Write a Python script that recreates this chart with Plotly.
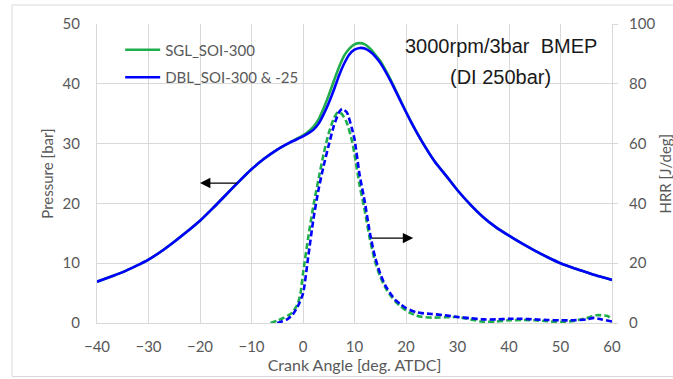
import plotly.graph_objects as go

# Pressure [bar] vs crank angle
p_angle = [-40, -37.5, -35, -32.5, -30, -27.5, -25, -22.5, -20, -17.5, -15, -12.5, -10, -7.5, -5, -2.5,
           0, 1, 2, 3, 4, 5, 6, 7, 8, 9, 10, 11, 12, 13, 14, 15, 17, 19, 21, 23, 25.5, 28, 30,
           32.5, 35, 37.5, 40, 42.5, 45, 47.5, 50, 52.5, 55, 57.5, 60]
p_dbl = [6.9, 7.7, 8.5, 9.5, 10.6, 12.0, 13.6, 15.3, 17.1, 19.2, 21.4, 23.6, 25.7, 27.5, 29.0, 30.2,
         31.2, 31.7, 32.3, 33.3, 34.9, 36.8, 39.0, 41.4, 43.4, 44.9, 45.7, 46.0, 45.9, 45.4, 44.6, 43.5,
         40.5, 37.0, 33.6, 30.5, 27.1, 24.4, 22.2, 19.8, 17.7, 16.0, 14.6, 13.3, 12.1, 11.0, 10.0,
         9.2, 8.5, 7.8, 7.2]
p_sgl = [6.9, 7.7, 8.5, 9.5, 10.6, 12.0, 13.6, 15.3, 17.1, 19.2, 21.4, 23.6, 25.7, 27.5, 29.0, 30.2,
         31.4, 32.0, 32.8, 34.0, 35.9, 38.1, 40.5, 42.8, 44.7, 45.9, 46.6, 46.8, 46.6, 45.9, 44.9, 43.8,
         40.7, 37.1, 33.6, 30.5, 27.1, 24.4, 22.2, 19.8, 17.7, 16.0, 14.6, 13.3, 12.1, 11.0, 10.0,
         9.2, 8.5, 7.8, 7.2]

# Heat release rate [J/deg]
h_angle_dbl = [-5, -4, -3, -2, -1, 0, 1, 2, 3, 4, 5, 6, 7, 7.6, 8.5, 9.5, 10, 11, 12, 13, 14, 15, 16,
               17, 18, 19, 20, 21, 22, 23, 25, 27.5, 30, 32.5, 35, 37.5, 40, 42.5, 45, 47.5, 50,
               52.5, 55, 56.5, 58, 60]
h_dbl = [0, 0.6, 1.3, 2.8, 5.6, 9.8, 22, 34.5, 44.5, 52.5, 59.5, 66, 70.5, 71.6, 70.5, 65, 61.5,
         49.5, 40.5, 30, 22, 16.5, 12.5, 9.8, 7.6, 6.2, 5.0, 4.2, 3.6, 3.3, 3.0, 2.6, 2.0, 1.6, 1.2,
         1.2, 1.4, 1.4, 1.2, 1.0, 0.9, 0.9, 1.2, 1.7, 1.2, 0.5]
h_angle_sgl = [-6.3, -5, -4, -3, -2, -1, -0.5, 0, 1, 2, 3, 4, 5, 6, 6.8, 7.5, 8.5, 9.5, 10, 11, 12,
               13, 14, 15, 16, 17, 18, 19, 20, 21, 22, 23, 25, 27.5, 30, 32.5, 35, 37.5, 40, 42.5,
               45, 47.5, 50, 52.5, 55, 57, 59, 60]
h_sgl = [0, 0.8, 1.5, 2.4, 3.6, 6.5, 9.8, 16.5, 28.5, 39, 48, 56.5, 63.5, 68.5, 70.6, 70, 67, 61,
         56.5, 46, 37.5, 28, 20.5, 15.5, 11.8, 9.2, 7.1, 5.5, 4.2, 3.2, 2.5, 2.1, 1.8, 1.9, 2.0, 1.2,
         0.4, 0.5, 0.9, 1.0, 0.9, 0.6, 0.3, 0.7, 1.6, 2.6, 2.4, 1.4]

x_ticks = [-40, -30, -20, -10, 0, 10, 20, 30, 40, 50, 60]
name_sgl = "SGL_SOI-300"
name_dbl = "DBL_SOI-300 & -25"

GREEN = "#1fae4b"
BLUE = "#0000ff"
GRID = "#d9d9d9"
TXT = "#595959"
FONT = "Lato"
SM = 0.6

fig = go.Figure()
fig.add_trace(go.Scatter(x=p_angle, y=p_sgl, name=name_sgl, mode="lines", legendgroup="sgl",
                         line=dict(color=GREEN, width=2.6, shape="spline", smoothing=SM)))
fig.add_trace(go.Scatter(x=p_angle, y=p_dbl, name=name_dbl, mode="lines", legendgroup="dbl",
                         line=dict(color=BLUE, width=2.6, shape="spline", smoothing=SM)))
fig.add_trace(go.Scatter(x=h_angle_sgl, y=h_sgl, name=name_sgl + " HRR", mode="lines", yaxis="y2",
                         showlegend=False, legendgroup="sgl",
                         line=dict(color=GREEN, width=2.6, dash="6px,3px", shape="spline", smoothing=SM)))
fig.add_trace(go.Scatter(x=h_angle_dbl, y=h_dbl, name=name_dbl + " HRR", mode="lines", yaxis="y2",
                         showlegend=False, legendgroup="dbl",
                         line=dict(color=BLUE, width=2.6, dash="6px,3px", shape="spline", smoothing=SM)))

fig.update_layout(
    width=673, height=379,
    margin=dict(l=97, r=61, t=24, b=56, autoexpand=False),
    paper_bgcolor="white", plot_bgcolor="white",
    font=dict(family=FONT, size=15, color=TXT),
    xaxis=dict(range=[-40, 60], tickvals=x_ticks, showgrid=True, gridcolor=GRID, gridwidth=1,
               zeroline=False, showline=True, linecolor=GRID, linewidth=1.2, ticks="",
               tickfont=dict(family=FONT, size=15, color=TXT), ticklabelstandoff=10,
               title=dict(text="Crank Angle [deg. ATDC]", font=dict(family=FONT, size=16, color=TXT),
                          standoff=3)),
    yaxis=dict(range=[0, 50], dtick=10, showgrid=True, gridcolor=GRID, gridwidth=1,
               zeroline=False, showline=True, linecolor=GRID, linewidth=1.2, ticks="",
               tickfont=dict(family=FONT, size=15, color=TXT), ticklabelstandoff=13,
               title=dict(text="Pressure [bar]", font=dict(family=FONT, size=15, color=TXT),
                          standoff=5)),
    yaxis2=dict(range=[0, 100], dtick=20, overlaying="y", side="right", showgrid=False,
                zeroline=False, showline=True, linecolor=GRID, linewidth=1.2,
                ticks="outside", ticklen=5, tickcolor=GRID,
                tickfont=dict(family=FONT, size=15, color=TXT), ticklabelstandoff=8),
    legend=dict(x=0.045, y=0.968, xanchor="left", yanchor="top", bgcolor="rgba(0,0,0,0)",
                font=dict(family=FONT, size=15, color=TXT), tracegroupgap=5, itemwidth=35),
    showlegend=True,
)

fig.add_shape(type="rect", xref="paper", yref="paper",
              x0=(12 - 97) / 515, x1=(700 - 97) / 515,
              y0=(323 - 376.5) / 299, y1=(323 - 5) / 299,
              line=dict(color=GRID, width=1), fillcolor="rgba(0,0,0,0)", layer="below")

# right axis title
fig.add_annotation(x=(664 - 97) / 515, y=0.5, xref="paper", yref="paper",
                   xanchor="center", yanchor="middle", textangle=-90,
                   text="HRR [J/deg]", showarrow=False,
                   font=dict(family=FONT, size=15, color=TXT))

fig.add_annotation(x=(500.5 - 97) / 515, y=(323 - 46) / 299, xref="paper", yref="paper",
                   xanchor="center", yanchor="middle",
                   text="3000rpm/3bar\u00a0 BMEP", showarrow=False,
                   font=dict(family="Liberation Sans", size=20, color="#1a1a1a"))
fig.add_annotation(x=(500.8 - 97) / 515, y=(323 - 77.3) / 299, xref="paper", yref="paper",
                   xanchor="center", yanchor="middle",
                   text="(DI 250bar)", showarrow=False,
                   font=dict(family="Liberation Sans", size=20, color="#1a1a1a"))

fig.add_annotation(x=-20, y=23.4, xref="x", yref="y", ax=-12.6, ay=23.4, axref="x", ayref="y",
                   text="", showarrow=True, arrowhead=2, arrowsize=1.6, arrowwidth=1.3,
                   arrowcolor="black")
fig.add_annotation(x=21.4, y=28.4, xref="x", yref="y2", ax=13.1, ay=28.4, axref="x", ayref="y2",
                   text="", showarrow=True, arrowhead=2, arrowsize=1.6, arrowwidth=1.3,
                   arrowcolor="black")

fig.write_html("out.html")
